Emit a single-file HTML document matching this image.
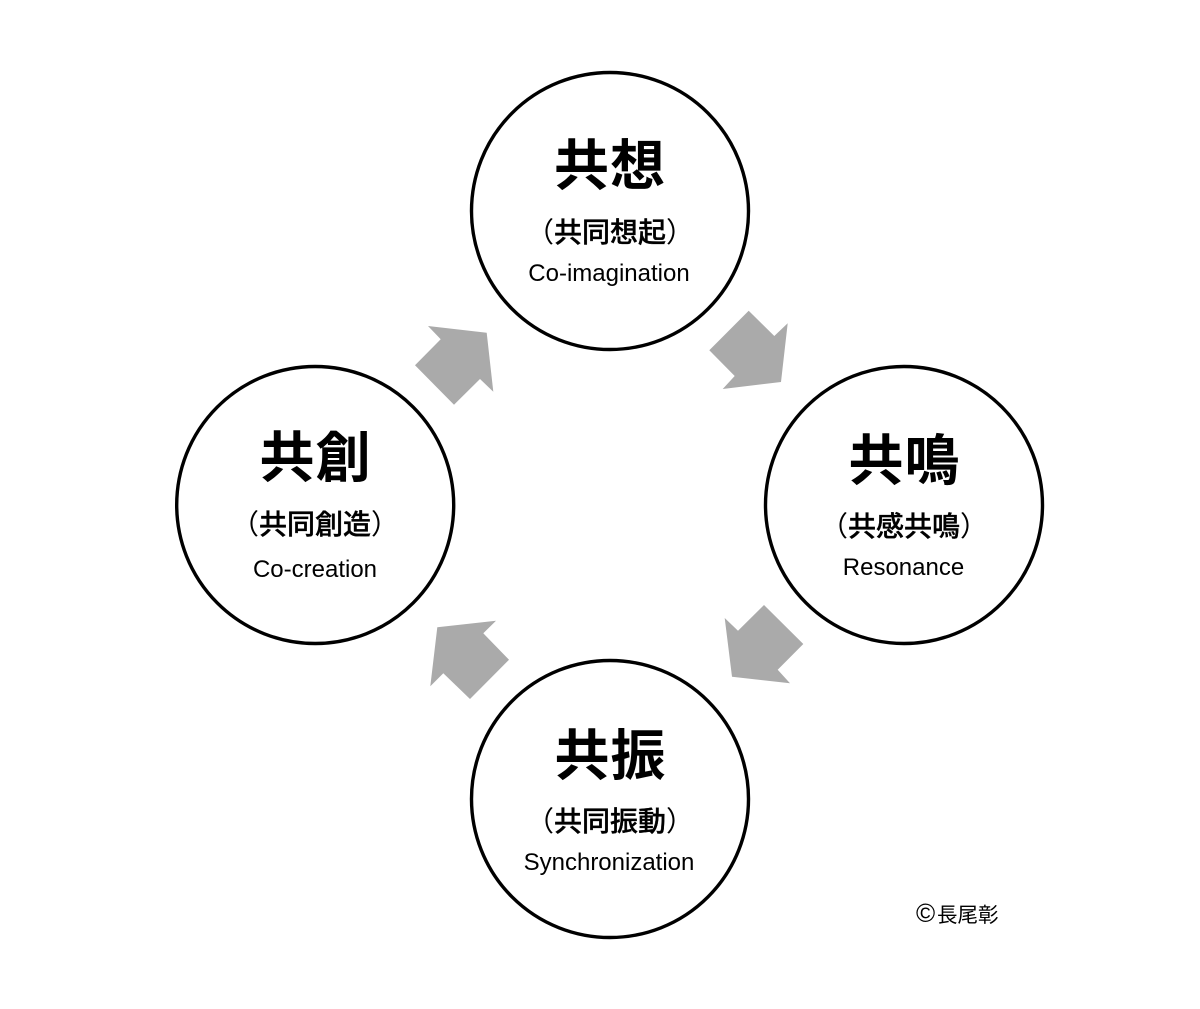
<!DOCTYPE html>
<html lang="ja">
<head>
<meta charset="utf-8">
<title>共想 共鳴 共振 共創</title>
<style>
html,body{margin:0;padding:0;background:#fff;width:1200px;height:1009px;overflow:hidden}
svg{display:block}
text{fill:#000;text-anchor:middle}
.m{font:700 55px "Liberation Sans","Noto Sans CJK JP",sans-serif;letter-spacing:1px}
.s{font:500 28px "Liberation Sans","Noto Sans CJK JP",sans-serif;stroke:#000;stroke-width:.35px}
.s tspan{font-weight:400;stroke:none}
.e{font:400 24px "Liberation Sans","Noto Sans CJK JP",sans-serif}
</style>
</head>
<body>
<svg width="1200" height="1009" viewBox="0 0 1200 1009" xmlns="http://www.w3.org/2000/svg">
<rect width="1200" height="1009" fill="#fff"/>
<g fill="#fff" stroke="#000" stroke-width="3.4">
<circle cx="610" cy="211" r="138.5"/>
<circle cx="315.2" cy="505" r="138.5"/>
<circle cx="904" cy="505" r="138.5"/>
<circle cx="610" cy="799" r="138.5"/>
</g>
<g fill="#aaaaaa">
<polygon points="486.7,332.7 493.3,391.7 480,379 454,404.7 415,365.3 440.7,339.3 428,326"/>
<polygon points="787.7,323.3 781,382 722.7,389 734.7,376 709.3,350.3 748.7,310.7 774.3,336"/>
<polygon points="724.7,618 738,630.7 764,605 803.3,644 777.7,669.7 790,683.3 732,676.7"/>
<polygon points="437.3,627.3 496,620.7 483.3,633.3 509,659.7 470,699 443.3,673.3 430.3,686.3"/>
</g>
<text class="m" x="610" y="185">共想</text>
<text class="s" x="610" y="242"><tspan>（</tspan>共同想起<tspan>）</tspan></text>
<text class="e" x="609" y="281">Co-imagination</text>

<text class="m" x="315.5" y="477">共創</text>
<text class="s" x="315" y="534"><tspan>（</tspan>共同創造<tspan>）</tspan></text>
<text class="e" x="315" y="577">Co-creation</text>

<text class="m" x="904.5" y="480">共鳴</text>
<text class="s" x="904" y="536"><tspan>（</tspan>共感共鳴<tspan>）</tspan></text>
<text class="e" x="903.5" y="575">Resonance</text>

<text class="m" x="610.5" y="775">共振</text>
<text class="s" x="610" y="831"><tspan>（</tspan>共同振動<tspan>）</tspan></text>
<text class="e" x="609" y="870">Synchronization</text>

<text x="916" y="922" style="text-anchor:start;font:400 26px 'Liberation Sans',sans-serif">©</text>
<text x="937" y="922" style="text-anchor:start;font:400 20.5px 'Noto Sans CJK JP',sans-serif">長尾彰</text>
</svg>
</body>
</html>
